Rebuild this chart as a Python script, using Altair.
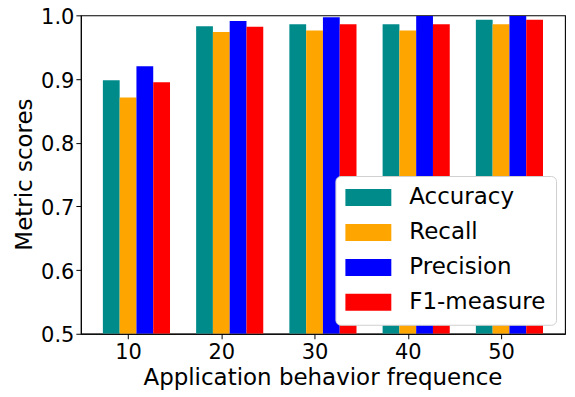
import altair as alt
import pandas as pd

freqs = [10, 20, 30, 40, 50]
metrics = ["Accuracy", "Recall", "Precision", "F1-measure"]
accuracy = [0.898, 0.983, 0.986, 0.986, 0.993]
recall = [0.871, 0.974, 0.976, 0.976, 0.986]
precision = [0.920, 0.991, 0.997, 0.999, 0.999]
f1 = [0.895, 0.982, 0.986, 0.986, 0.993]
colors = ["#008B8B", "#FFA500", "#0000FF", "#FF0000"]
x_ticks = [10, 20, 30, 40, 50]
y_ticks = [0.5, 0.6, 0.7, 0.8, 0.9, 1.0]

series = [accuracy, recall, precision, f1]
rows = []
for i, (name, vals) in enumerate(zip(metrics, series)):
    for f, v in zip(freqs, vals):
        rows.append({"freq": f, "metric": name, "idx": i, "value": v})
df = pd.DataFrame(rows)

W = 1.8
FONT = "DejaVu Sans"

chart = (
    alt.Chart(df)
    .transform_calculate(
        x0=f"datum.freq + (datum.idx - 1) * {W} - {W}/2",
        x1=f"datum.freq + (datum.idx - 1) * {W} + {W}/2",
    )
    .mark_bar(clip=True)
    .encode(
        x=alt.X(
            "x0:Q",
            scale=alt.Scale(domain=[4.94, 56.86], nice=False, zero=False),
            axis=alt.Axis(
                values=x_ticks,
                format="d",
                title="Application behavior frequence",
                labelFontSize=21,
                labelBaseline="alphabetic",
                labelPadding=20,
                tickSize=5,
                titleFontSize=23,
                titleFontWeight="normal",
                titleBaseline="alphabetic",
                titleX=242,
                titleY=51,
                titleAlign="center",
            ),
        ),
        x2="x1:Q",
        y=alt.Y(
            "value:Q",
            scale=alt.Scale(domain=[0.5, 1.0], nice=False, zero=False),
            axis=alt.Axis(
                values=y_ticks,
                format=".1f",
                title="Metric scores",
                labelFontSize=21,
                labelPadding=2,
                labelOffset=2,
                tickSize=5,
                titleFontSize=23,
                titleFontWeight="normal",
                titleAngle=270,
                titleBaseline="alphabetic",
                titleAlign="center",
                titleX=-49,
                titleY=159,
            ),
        ),
        y2=alt.datum(0.5),
        color=alt.Color(
            "metric:N",
            scale=alt.Scale(domain=metrics, range=colors),
            legend=alt.Legend(
                title=None,
                orient="none",
                legendX=255,
                legendY=161,
                symbolType="M-2,-0.74L2,-0.74L2,0.74L-2,0.74Z",
                symbolSize=529,
                symbolOffset=11.5,
                symbolStrokeWidth=0,
                symbolOpacity=1,
                labelFontSize=23,
                labelFont=FONT,
                labelColor="black",
                labelOffset=29.5,
                padding=10,
                rowPadding=11,
                fillColor="white",
                strokeColor="#d0d0d0",
                cornerRadius=5,
            ),
        ),
    )
    .properties(
        width=485,
        height=319,
        autosize=alt.AutoSizeParams(type="none"),
        padding={"left": 73, "top": 7, "right": 2, "bottom": 60},
    )
    .configure(font=FONT)
    .configure_view(stroke="black", strokeWidth=1.1)
    .configure_axis(
        grid=False,
        domainColor="black",
        tickColor="black",
        labelColor="black",
        titleColor="black",
        labelFont=FONT,
        titleFont=FONT,
    )
)

chart.save("out.html", embed_options={"renderer": "svg", "actions": False})
